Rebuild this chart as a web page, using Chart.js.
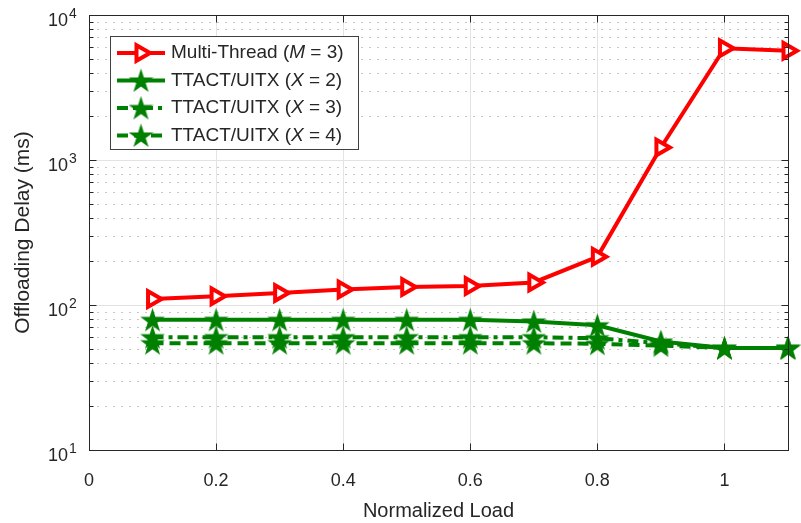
<!DOCTYPE html>
<html>
<head>
<meta charset="utf-8">
<script src="https://cdn.jsdelivr.net/npm/chart.js@4.4.1/dist/chart.umd.min.js"></script>
<style>
  html, body { margin: 0; padding: 0; background: #fff; }
</style>
</head>
<body>
<canvas id="delayChart" width="801" height="523"></canvas>
<script>
// normalized load on the x axis
const loads = [0.1, 0.2, 0.3, 0.4, 0.5, 0.6, 0.7, 0.8, 0.9, 1.0, 1.1];
// offloading delay in ms
const multiThread = [110, 115, 121, 128, 133, 135, 143, 215, 1220, 5900, 5670];
const ttactX2 = [79, 79, 79, 79, 79, 79, 77, 72.5, 56, 50.5, 50.5];
const ttactX3 = [60, 60, 60, 60, 60, 60, 60, 59, 54.5, 50.5, 50.5];
const ttactX4 = [54.5, 54.5, 54.5, 54.5, 54.5, 54.5, 54.5, 54, 52.5, 50.5, 50.5];

const xTicks = [0, 0.2, 0.4, 0.6, 0.8, 1];
const yDecades = [10, 100, 1000, 10000];
const yExponents = ['1', '2', '3', '4'];

const FONT = "'Liberation Sans', Arial, sans-serif";
const INK = '#262626';
const RED = '#ff0000';
const GREEN = '#008000';

// filled five-point star, used as a point image
function pentagram(color, outer) {
  const size = Math.ceil(outer * 2 + 4);
  const c = document.createElement('canvas');
  c.width = size; c.height = size;
  const g = c.getContext('2d');
  const cx = size / 2, cy = size / 2 + outer * 0.1;
  const inner = outer * 0.382;
  g.beginPath();
  for (let k = 0; k < 10; k++) {
    const r = k % 2 ? inner : outer;
    const a = -Math.PI / 2 + k * Math.PI / 5;
    g.lineTo(cx + r * Math.cos(a), cy + r * Math.sin(a));
  }
  g.closePath();
  g.fillStyle = color; g.fill();
  g.strokeStyle = color; g.lineWidth = 1.5; g.stroke();
  return c;
}
const star = pentagram(GREEN, 10.5);

function toPoints(ys) {
  return loads.map((x, i) => ({ x: x, y: ys[i] }));
}

const datasets = [
  {
    label: 'Multi-Thread (M = 3)', legendParts: [['Multi-Thread (', false], ['M', true], [' = 3)', false]],
    data: toPoints(multiThread), borderColor: RED, borderWidth: 4, borderDash: [],
    pointStyle: 'triangle', rotation: 90, pointRadius: 9, pointBorderWidth: 4,
    pointBorderColor: RED, pointBackgroundColor: '#ffffff'
  },
  {
    label: 'TTACT/UITX (X = 2)', legendParts: [['TTACT/UITX (', false], ['X', true], [' = 2)', false]],
    data: toPoints(ttactX2), borderColor: GREEN, borderWidth: 4, borderDash: [],
    pointStyle: star
  },
  {
    label: 'TTACT/UITX (X = 3)', legendParts: [['TTACT/UITX (', false], ['X', true], [' = 3)', false]],
    data: toPoints(ttactX3), borderColor: GREEN, borderWidth: 4, borderDash: [11, 5, 4, 5],
    pointStyle: star
  },
  {
    label: 'TTACT/UITX (X = 4)', legendParts: [['TTACT/UITX (', false], ['X', true], [' = 4)', false]],
    data: toPoints(ttactX4), borderColor: GREEN, borderWidth: 4, borderDash: [11, 6],
    pointStyle: star
  }
];
datasets.forEach(d => { d.fill = false; d.tension = 0; d.clip = false; d.pointHoverRadius = 0; });

// grid, box, inward ticks and power-of-ten labels
const axesPlugin = {
  id: 'axesBox',
  beforeDatasetsDraw(chart) {
    const { ctx, chartArea: a, scales: { x, y } } = chart;
    ctx.save();
    ctx.lineWidth = 1;
    // minor dotted grid
    ctx.strokeStyle = '#c8c8c8';
    ctx.setLineDash([2, 6]);
    yDecades.slice(0, -1).forEach(d => {
      for (let m = 2; m <= 9; m++) {
        const py = Math.round(y.getPixelForValue(d * m)) + 0.5;
        ctx.beginPath(); ctx.moveTo(a.left, py); ctx.lineTo(a.right, py); ctx.stroke();
      }
    });
    ctx.setLineDash([]);
    // major grid
    ctx.strokeStyle = '#e3e3e3';
    xTicks.forEach(v => {
      const px = Math.round(x.getPixelForValue(v)) + 0.5;
      ctx.beginPath(); ctx.moveTo(px, a.top); ctx.lineTo(px, a.bottom); ctx.stroke();
    });
    yDecades.forEach(v => {
      const py = Math.round(y.getPixelForValue(v)) + 0.5;
      ctx.beginPath(); ctx.moveTo(a.left, py); ctx.lineTo(a.right, py); ctx.stroke();
    });
    ctx.restore();
  },
  afterDatasetsDraw(chart) {
    const { ctx, chartArea: a, scales: { x, y } } = chart;
    ctx.save();
    ctx.strokeStyle = INK;
    ctx.lineWidth = 1;
    const L = Math.round(a.left) + 0.5, R = Math.round(a.right) + 0.5;
    const T = Math.round(a.top) + 0.5, B = Math.round(a.bottom) + 0.5;
    ctx.strokeRect(L, T, R - L, B - T);
    ctx.beginPath();
    xTicks.forEach(v => {
      const px = Math.round(x.getPixelForValue(v)) + 0.5;
      ctx.moveTo(px, B); ctx.lineTo(px, B - 7);
      ctx.moveTo(px, T); ctx.lineTo(px, T + 7);
    });
    yDecades.forEach(d => {
      const py = Math.round(y.getPixelForValue(d)) + 0.5;
      ctx.moveTo(L, py); ctx.lineTo(L + 7, py);
      ctx.moveTo(R, py); ctx.lineTo(R - 7, py);
      if (d < 10000) {
        for (let m = 2; m <= 9; m++) {
          const qy = Math.round(y.getPixelForValue(d * m)) + 0.5;
          ctx.moveTo(L, qy); ctx.lineTo(L + 4, qy);
          ctx.moveTo(R, qy); ctx.lineTo(R - 4, qy);
        }
      }
    });
    ctx.stroke();
    // y labels as 10^n
    ctx.fillStyle = INK;
    ctx.textBaseline = 'middle';
    yDecades.forEach((d, i) => {
      const py = y.getPixelForValue(d);
      ctx.font = '18px ' + FONT;
      ctx.textAlign = 'right';
      ctx.fillText('10', 68, py + 6);
      ctx.font = '14px ' + FONT;
      ctx.textAlign = 'left';
      ctx.fillText(yExponents[i], 69, py - 1);
    });
    ctx.restore();
  },
  afterDraw(chart) {
    const { ctx } = chart;
    const box = { left: 110, top: 36, right: 358, bottom: 149 };
    ctx.save();
    ctx.fillStyle = '#ffffff';
    ctx.fillRect(box.left, box.top, box.right - box.left, box.bottom - box.top);
    ctx.strokeStyle = '#404040';
    ctx.lineWidth = 1;
    ctx.strokeRect(box.left + 0.5, box.top + 0.5, box.right - box.left, box.bottom - box.top);
    chart.data.datasets.forEach((ds, i) => {
      const ry = 53 + i * 27.5;
      ctx.strokeStyle = ds.borderColor;
      ctx.lineWidth = ds.borderWidth;
      ctx.setLineDash(ds.borderDash);
      ctx.beginPath(); ctx.moveTo(117, ry); ctx.lineTo(165, ry); ctx.stroke();
      ctx.setLineDash([]);
      const mx = 141;
      if (ds.pointStyle === 'triangle') {
        const r = ds.pointRadius;
        ctx.beginPath();
        ctx.moveTo(mx + r, ry);
        ctx.lineTo(mx - r / 2, ry - r * Math.sqrt(3) / 2);
        ctx.lineTo(mx - r / 2, ry + r * Math.sqrt(3) / 2);
        ctx.closePath();
        ctx.fillStyle = ds.pointBackgroundColor; ctx.fill();
        ctx.lineWidth = ds.pointBorderWidth; ctx.strokeStyle = ds.pointBorderColor; ctx.stroke();
      } else {
        const img = ds.pointStyle;
        ctx.drawImage(img, mx - img.width / 2, ry - img.height / 2);
      }
      ctx.fillStyle = INK;
      ctx.textAlign = 'left';
      ctx.textBaseline = 'middle';
      let tx = 171;
      ds.legendParts.forEach(([t, italic]) => {
        ctx.font = (italic ? 'italic ' : '') + '19px ' + FONT;
        ctx.fillText(t, tx, ry);
        tx += ctx.measureText(t).width;
      });
    });
    ctx.restore();
  }
};

new Chart(document.getElementById('delayChart'), {
  type: 'line',
  data: { datasets: datasets },
  options: {
    responsive: false,
    animation: false,
    layout: { padding: { top: 15, right: 8, left: 0, bottom: 0 } },
    plugins: { legend: { display: false }, tooltip: { enabled: false } },
    scales: {
      x: {
        type: 'linear', min: 0, max: 1.1,
        afterBuildTicks: s => { s.ticks = xTicks.map(v => ({ value: v })); },
        afterFit: s => { s.height = 73; },
        grid: { display: false },
        border: { display: false },
        ticks: {
          padding: 12, color: INK, font: { size: 18, family: FONT },
          callback: v => String(+Number(v).toFixed(1))
        },
        title: {
          display: true, text: 'Normalized Load', color: INK,
          font: { size: 20, family: FONT }, padding: { top: 4, bottom: 0 }
        }
      },
      y: {
        type: 'logarithmic', min: 10, max: 10000,
        afterFit: s => { s.width = 89; },
        grid: { display: false },
        border: { display: false },
        ticks: { display: false },
        title: {
          display: true, text: 'Offloading Delay (ms)', color: INK,
          font: { size: 21, family: FONT }, padding: { top: 11, bottom: 0 }
        }
      }
    }
  },
  plugins: [axesPlugin]
});
</script>
</body>
</html>
